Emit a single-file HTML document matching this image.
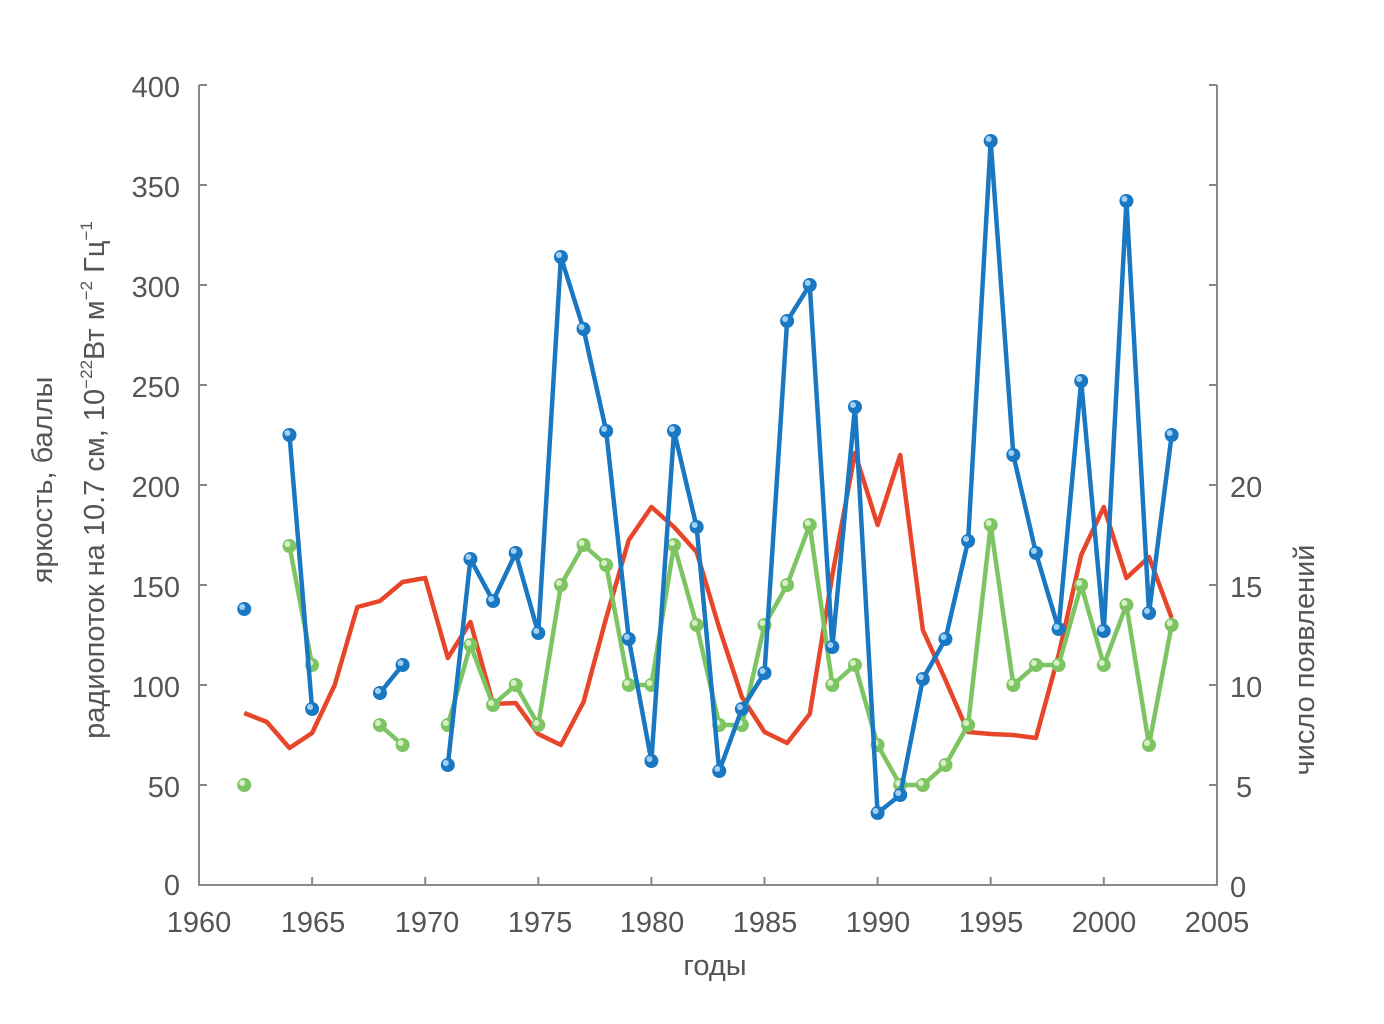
<!DOCTYPE html><html><head><meta charset="utf-8"><style>body{margin:0;background:#fff}svg{display:block}</style></head><body>
<svg id="s" width="1384" height="1024" xmlns="http://www.w3.org/2000/svg" font-family="Liberation Sans, DejaVu Sans, sans-serif" fill="#555">
<g stroke="#888" stroke-width="2" fill="none">
<path d="M199 85V885H1217V85"/>
</g>
<g id="ticks" stroke="#888" stroke-width="2"></g>
<g font-size="29" fill="#555" text-anchor="end">
<text x="180" y="97">400</text><text x="180" y="197">350</text><text x="180" y="297">300</text><text x="180" y="397">250</text><text x="180" y="497">200</text><text x="180" y="597">150</text><text x="180" y="697">100</text><text x="180" y="797">50</text><text x="180" y="895">0</text>
</g>
<g font-size="29" fill="#555" text-anchor="start">
<text x="1230" y="497">20</text><text x="1230" y="597">15</text><text x="1230" y="697">10</text><text x="1236" y="797">5</text><text x="1230" y="897">0</text>
</g>
<g font-size="29" fill="#555" text-anchor="middle">
<text x="199" y="932">1960</text><text x="313" y="932">1965</text><text x="427" y="932">1970</text><text x="540" y="932">1975</text><text x="652" y="932">1980</text><text x="765" y="932">1985</text><text x="878" y="932">1990</text><text x="991" y="932">1995</text><text x="1104" y="932">2000</text><text x="1217" y="932">2005</text>
<text x="715" y="975">годы</text>
<text transform="translate(52,480) rotate(-90)">яркость, баллы</text>
<text transform="translate(104,480) rotate(-90)">радиопоток на 10.7 см, 10<tspan font-size="17" dy="-12">−22</tspan><tspan dy="12">Вт м</tspan><tspan font-size="17" dy="-12">−2</tspan><tspan dy="12"> Гц</tspan><tspan font-size="17" dy="-12">−1</tspan></text>
<text transform="translate(1314,660) rotate(-90)">число появлений</text>
</g>
<g id="d"></g>
</svg>
<script>
const X=y=>199+(y-1960)*22.62;
const d=document.getElementById('d'),t=document.getElementById('ticks');
let th='';
for(let i=0;i<=8;i++){const y=85+i*100;th+=`<line x1="199" x2="207" y1="${y}" y2="${y}"/><line x1="1217" x2="1209" y1="${y}" y2="${y}"/>`;}
for(let i=0;i<=9;i++){const x=199+i*113.1;th+=`<line x1="${x}" x2="${x}" y1="885" y2="877"/>`;}
t.innerHTML=th;
const red=[713,722,748,733,685,607,601,582,578,658,622,704,703,734,745,702,618,540,507,527,552,628,697,732,743,714,575,453,525,455,630,680,732,734,735,738,655,555,507,578,557,618];
const blueV=[[[1962,138]],[[1964,225],[1965,88]],[[1968,96],[1969,110]],[[1971,60],[1972,163],[1973,142],[1974,166],[1975,126],[1976,314],[1977,278],[1978,227],[1979,123],[1980,62],[1981,227],[1982,179],[1983,57],[1984,88],[1985,106],[1986,282],[1987,300],[1988,119],[1989,239],[1990,36],[1991,45],[1992,103],[1993,123],[1994,172],[1995,372],[1996,215],[1997,166],[1998,128],[1999,252],[2000,127],[2001,342],[2002,136],[2003,225]]];
const gP=[[[1962,785]],[[1964,546],[1965,665]],[[1968,725],[1969,745]],[[1971,725],[1972,645],[1973,705],[1974,685],[1975,725],[1976,585],[1977,545],[1978,565],[1979,685],[1980,685],[1981,545],[1982,625],[1983,725],[1984,725],[1985,625],[1986,585],[1987,525],[1988,685],[1989,665],[1990,745],[1991,785],[1992,785],[1993,765],[1994,725],[1995,525],[1996,685],[1997,665],[1998,665],[1999,585],[2000,665],[2001,605],[2002,745],[2003,625]]];
let h='';
function seg(pts,col,mk,hi){if(pts.length>1)h+=`<polyline fill="none" stroke="${col}" stroke-width="4.5" stroke-linejoin="round" points="${pts.map(p=>X(p[0])+','+p[1]).join(' ')}"/>`;
 if(mk)pts.forEach(p=>{h+=`<circle cx="${X(p[0])}" cy="${p[1]}" r="7" fill="${col}"/><circle cx="${X(p[0])-2}" cy="${p[1]-2}" r="3" fill="${hi}"/>`;});}
seg(red.map((v,i)=>[1962+i,v]),'#e8462a',false);
gP.forEach(s=>seg(s,'#7dc462',true,'#d8f0c8'));
blueV.forEach(s=>seg(s.map(p=>[p[0],885-2*p[1]]),'#1a78c2',true,'#9fd0f5'));
d.innerHTML=h;
</script>
</body></html>
